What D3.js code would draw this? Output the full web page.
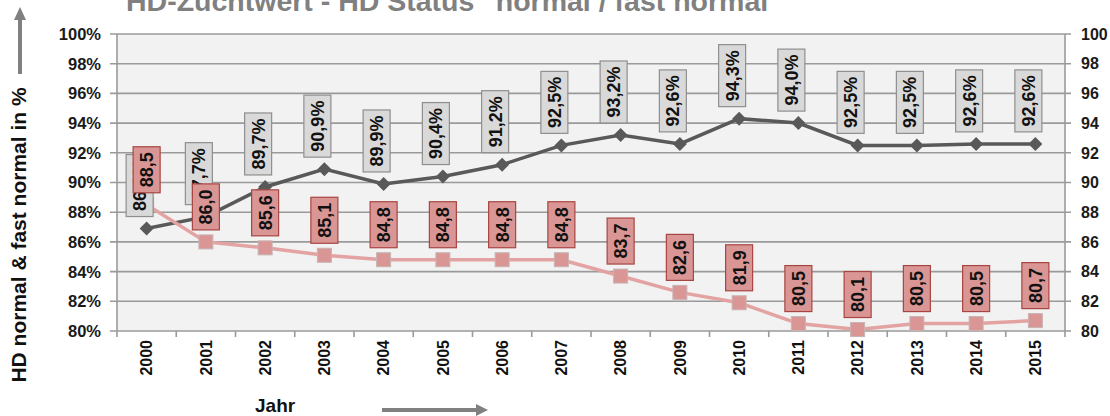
<!DOCTYPE html>
<html><head><meta charset="utf-8">
<script src="https://cdn.jsdelivr.net/npm/d3@7"></script>
<style>body{margin:0;background:#fff}svg{display:block}text{font-family:"Liberation Sans",Arial,sans-serif}</style>
</head><body><svg id="c" width="1110" height="416"></svg>
<script>
const years = ["2000","2001","2002","2003","2004","2005","2006","2007","2008","2009","2010","2011","2012","2013","2014","2015"];
const normalFastNormal = [86.9,87.7,89.7,90.9,89.9,90.4,91.2,92.5,93.2,92.6,94.3,94.0,92.5,92.5,92.6,92.6];
const zuchtwert = [88.5,86.0,85.6,85.1,84.8,84.8,84.8,84.8,83.7,82.6,81.9,80.5,80.1,80.5,80.5,80.7];
const yTicks = [80,82,84,86,88,90,92,94,96,98,100];
const titleText = 'HD-Zuchtwert - HD Status  "normal / fast normal"';
const yTitle = "HD normal & fast normal in %";
const xTitle = "Jahr";

const svg = d3.select("#c");
const L = 117, R = 1065, T = 34, B = 331;
const x = d3.scaleBand().domain(years).range([L, R]).padding(0);
const cx = d => x(d) + x.bandwidth() / 2;
const y = d3.scaleLinear().domain([80, 100]).range([B, T]);

// title (cut off at top, as in the source image)
svg.append("text").attr("x", 126).attr("y", 11).attr("font-size", 28.5).attr("font-weight", "bold")
  .attr("fill", "#808080").text(titleText);

// plot background
svg.append("rect").attr("x", L).attr("y", T).attr("width", R - L).attr("height", B - T).attr("fill", "#f2f2f2");

// gridlines + ticks
const gridCol = "#9a9a9a";
svg.append("g").selectAll("line").data(yTicks).join("line")
  .attr("x1", L - 7).attr("x2", R + 6).attr("y1", d => y(d)).attr("y2", d => y(d))
  .attr("stroke", gridCol).attr("stroke-width", 1.6);
svg.append("line").attr("x1", L).attr("x2", L).attr("y1", T).attr("y2", B + 6).attr("stroke", gridCol).attr("stroke-width", 1.6);
svg.append("line").attr("x1", R).attr("x2", R).attr("y1", T).attr("y2", B + 6).attr("stroke", gridCol).attr("stroke-width", 1.6);
svg.append("g").selectAll("line").data(years.slice(1)).join("line")
  .attr("x1", d => x(d)).attr("x2", d => x(d)).attr("y1", B).attr("y2", B + 6)
  .attr("stroke", gridCol).attr("stroke-width", 1.6);

// left tick labels
svg.append("g").selectAll("text").data(yTicks).join("text")
  .attr("x", 101).attr("y", d => y(d)).attr("dy", "0.36em").attr("text-anchor", "end")
  .attr("font-size", 16.5).attr("font-weight", "bold").attr("fill", "#1a1a1a").text(d => d + "%");
// right tick labels
svg.append("g").selectAll("text").data(yTicks).join("text")
  .attr("x", 1081).attr("y", d => y(d)).attr("dy", "0.36em").attr("text-anchor", "start")
  .attr("font-size", 16).attr("font-weight", "bold").attr("fill", "#1a1a1a").text(d => d);
// x tick labels
svg.append("g").selectAll("text").data(years).join("text")
  .attr("transform", d => `translate(${cx(d)},340) rotate(-90)`).attr("dy", "0.36em")
  .attr("text-anchor", "end").attr("font-size", 16).attr("font-weight", "bold").attr("fill", "#111").text(d => d);

// axis titles
svg.append("text").attr("transform", "translate(26,235) rotate(-90)").attr("text-anchor", "middle")
  .attr("font-size", 21).attr("font-weight", "bold").attr("fill", "#111").text(yTitle);
svg.append("text").attr("x", 255).attr("y", 412).attr("font-size", 19).attr("font-weight", "bold").attr("fill", "#111").text(xTitle);

// arrows
const arrowCol = "#808080";
svg.append("line").attr("x1", 20).attr("x2", 20).attr("y1", 74).attr("y2", 18).attr("stroke", arrowCol).attr("stroke-width", 4);
svg.append("path").attr("d", "M20,7 L26,20 L14,20 Z").attr("fill", arrowCol);
svg.append("line").attr("x1", 382).attr("x2", 477).attr("y1", 410).attr("y2", 410).attr("stroke", arrowCol).attr("stroke-width", 4);
svg.append("path").attr("d", "M488,410 L476,404 L476,416 Z").attr("fill", arrowCol);

// lines
const line = d3.line().x((d, i) => cx(years[i])).y(d => y(d));
svg.append("path").datum(normalFastNormal).attr("d", line).attr("fill", "none").attr("stroke", "#595959").attr("stroke-width", 3.5);
svg.append("path").datum(zuchtwert).attr("d", line).attr("fill", "none").attr("stroke", "#e3a3a2").attr("stroke-width", 3.5);

// markers
svg.append("g").selectAll("path").data(normalFastNormal).join("path")
  .attr("transform", (d, i) => `translate(${cx(years[i])},${y(d)})`)
  .attr("d", "M0,-7 L7,0 L0,7 L-7,0 Z").attr("fill", "#595959");
svg.append("g").selectAll("rect").data(zuchtwert).join("rect")
  .attr("x", (d, i) => cx(years[i]) - 7).attr("y", d => y(d) - 7).attr("width", 14).attr("height", 14)
  .attr("fill", "#d99694").attr("stroke", "#c8b4b4").attr("stroke-width", 1);

const fmt = v => v.toFixed(1).replace(".", ",");

// gray labels
const gW = 27, gH = 62, gGap = 12, gDx = -7;
const gl = svg.append("g").selectAll("g").data(normalFastNormal).join("g")
  .attr("transform", (d, i) => `translate(${cx(years[i]) + gDx},${y(d) - gGap - gH / 2})`);
gl.append("rect").attr("x", -gW / 2).attr("y", -gH / 2).attr("width", gW).attr("height", gH)
  .attr("fill", "#d9d9d9").attr("stroke", "#8f8f8f").attr("stroke-width", 1.2);
gl.append("text").attr("transform", "rotate(-90)").attr("text-anchor", "middle").attr("dy", "0.36em")
  .attr("font-size", 18).attr("font-weight", "bold").attr("fill", "#111").text(d => fmt(d) + "%");

// pink labels
const pW = 27, pH = 46, pGap = 12;
const pl = svg.append("g").selectAll("g").data(zuchtwert).join("g")
  .attr("transform", (d, i) => `translate(${cx(years[i])},${y(d) - pGap - pH / 2})`);
pl.append("rect").attr("x", -pW / 2).attr("y", -pH / 2).attr("width", pW).attr("height", pH)
  .attr("fill", "#d99694").attr("stroke", "#a84543").attr("stroke-width", 1.2);
pl.append("text").attr("transform", "rotate(-90)").attr("text-anchor", "middle").attr("dy", "0.36em")
  .attr("font-size", 18).attr("font-weight", "bold").attr("fill", "#111").text(d => fmt(d));
</script></body></html>
